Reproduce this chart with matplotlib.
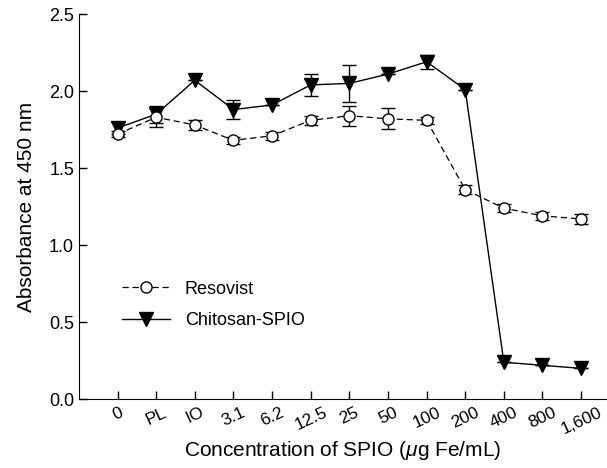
import matplotlib.pyplot as plt
from matplotlib.lines import Line2D
import numpy as np

plt.rcParams['font.family'] = ['Liberation Sans', 'DejaVu Sans']
plt.rcParams['mathtext.fontset'] = 'custom'
plt.rcParams['mathtext.it'] = 'Liberation Sans:italic'

# concentration labels on the x axis
concentrations = ['0', 'PL', 'IO', '3.1', '6.2', '12.5', '25', '50', '100',
                  '200', '400', '800', '1,600']

# absorbance values
resovist = [1.72, 1.83, 1.78, 1.68, 1.71, 1.81, 1.84, 1.82, 1.81,
            1.36, 1.24, 1.19, 1.17]
resovist_err = [0.02, 0.06, 0.03, 0.025, 0.027, 0.027, 0.065, 0.068, 0.024,
                0.03, 0.028, 0.027, 0.03]

chitosan = [1.76, 1.85, 2.07, 1.88, 1.91, 2.04, 2.05, 2.11, 2.19,
            2.01, 0.24, 0.22, 0.20]
chitosan_err = [0.04, 0.055, 0.0, 0.06, 0.0, 0.07, 0.12, 0.0, 0.045,
                0.0, 0.0, 0.0, 0.0]

x = np.arange(len(concentrations))

fig = plt.figure(figsize=(6.07, 4.68), dpi=100)
ax = fig.add_axes([0.130, 0.147, 0.870, 0.823])

ax.errorbar(x, chitosan, yerr=chitosan_err, color='black', lw=1.0,
            ls='-', marker='v', ms=10, mfc='black', mec='black',
            capsize=5, elinewidth=1.0, capthick=1.0, zorder=3)
ax.errorbar(x, resovist, yerr=resovist_err, color='black', lw=0.9,
            ls=(0, (5, 3)), marker='o', ms=8, mfc='white', mec='black',
            mew=1.0, capsize=5, elinewidth=1.0, capthick=1.0, zorder=4)

ax.set_xlim(-1, 12.67)
ax.set_ylim(0, 2.5)
ax.set_yticks([0.0, 0.5, 1.0, 1.5, 2.0, 2.5])
ax.set_yticklabels(['0.0', '0.5', '1.0', '1.5', '2.0', '2.5'])
ax.set_xticks(x)
ax.set_xticklabels(concentrations, rotation=25, ha='center')

ax.spines['top'].set_visible(False)
ax.spines['right'].set_visible(False)
ax.tick_params(direction='in', length=6, width=1.0, labelsize=13)
ax.tick_params(axis='x', pad=4, labelsize=12.5)

ax.set_ylabel('Absorbance at 450 nm', fontsize=15, labelpad=9)
ax.set_xlabel(r'Concentration of SPIO ($\mu$g Fe/mL)', fontsize=15,
              labelpad=2)

handles = [
    Line2D([], [], color='black', lw=0.9, ls=(0, (5, 3)), marker='o', ms=8,
           mfc='white', mec='black'),
    Line2D([], [], color='black', lw=1.0, ls='-', marker='v', ms=10,
           mfc='black', mec='black'),
]
ax.legend(handles, ['Resovist', 'Chitosan-SPIO'], loc='upper left',
          bbox_to_anchor=(0.05, 0.35), frameon=False, fontsize=13,
          handlelength=2.7, handletextpad=0.8, labelspacing=0.8)

fig.savefig('out.png', dpi=100)
